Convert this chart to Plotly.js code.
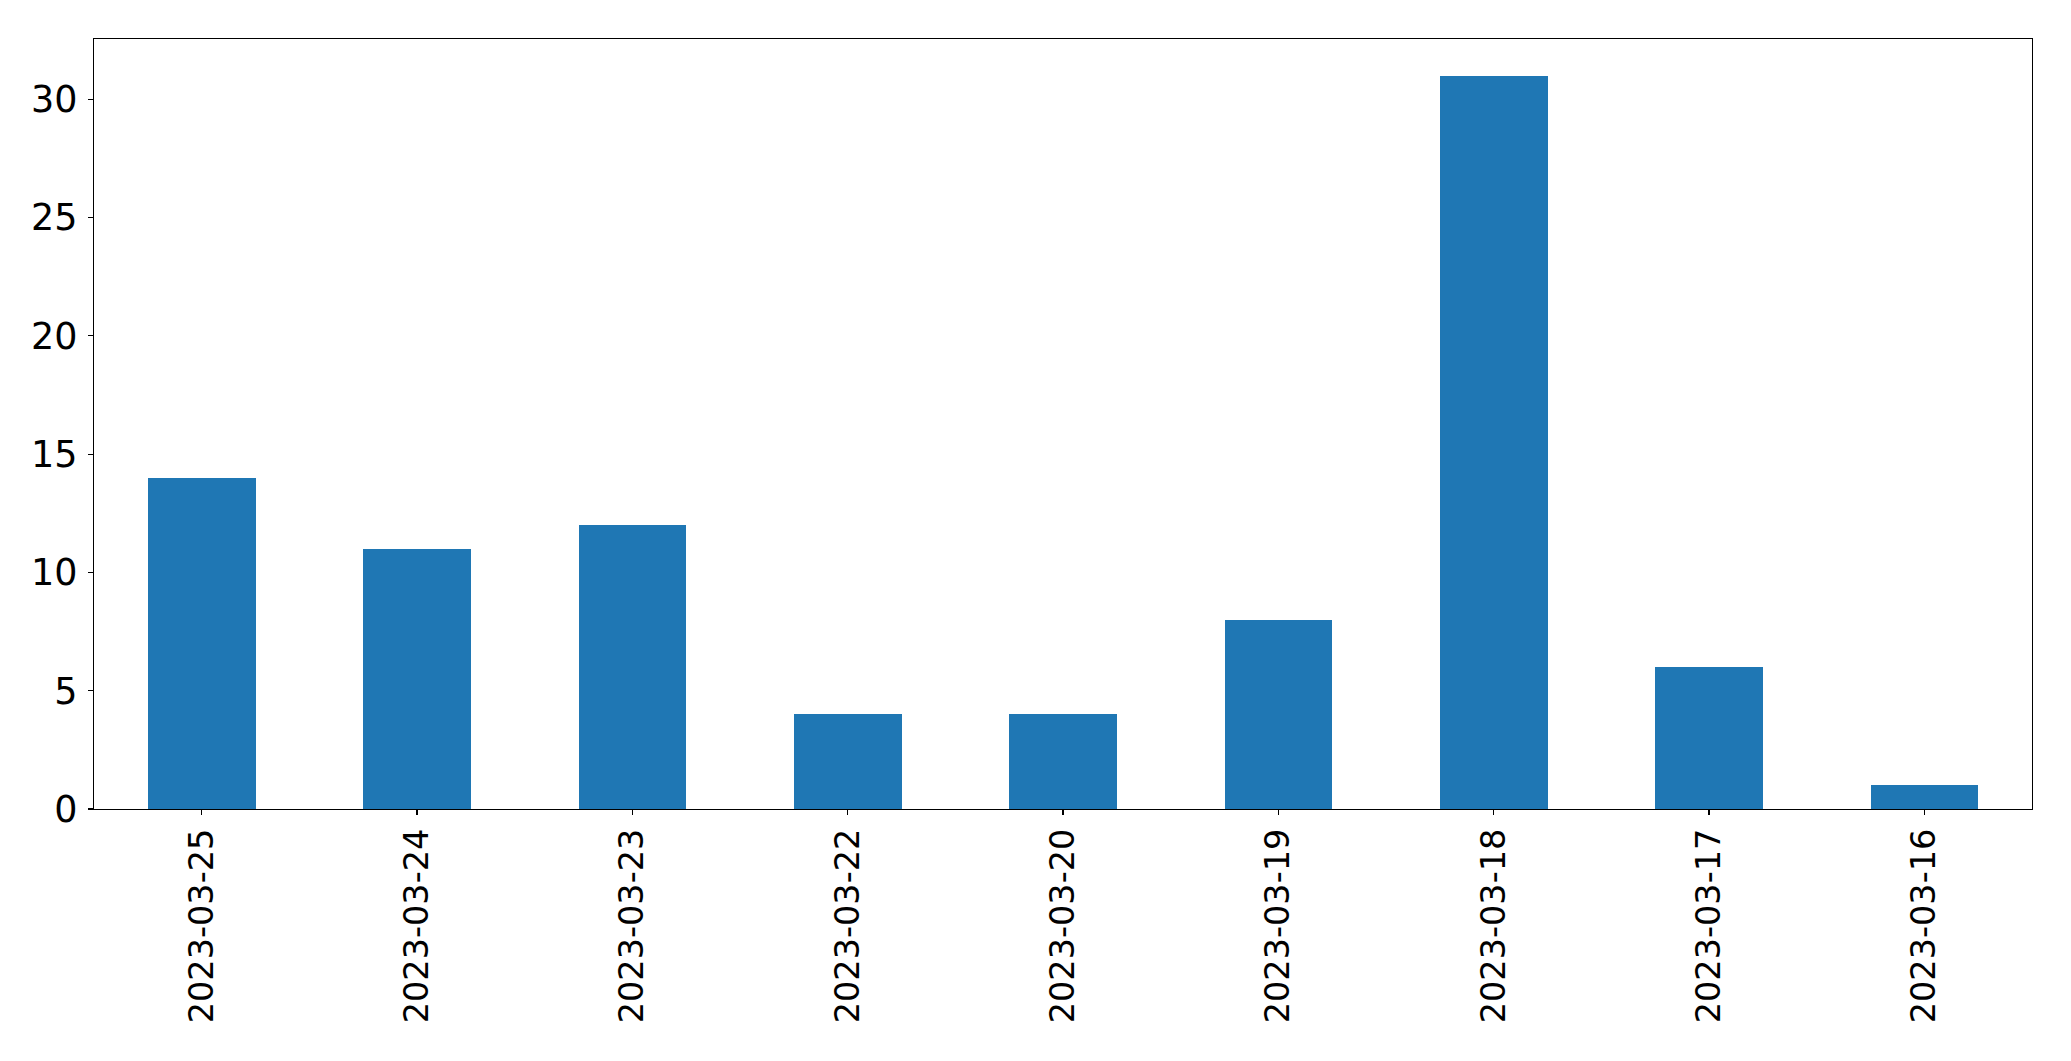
<!DOCTYPE html>
<html>
<head>
<meta charset="utf-8">
<script src="https://cdn.plot.ly/plotly-3.0.1.min.js"></script>
<style>html,body{margin:0;padding:0;background:#fff;}#chart{width:2071px;height:1061px;}</style>
</head>
<body>
<div id="chart"></div>
<script>
const dates = ["2023-03-25","2023-03-24","2023-03-23","2023-03-22","2023-03-20","2023-03-19","2023-03-18","2023-03-17","2023-03-16"];
const counts = [14, 11, 12, 4, 4, 8, 31, 6, 1];
const yTicks = [0, 5, 10, 15, 20, 25, 30];

const trace = {
  type: 'bar',
  x: dates,
  y: counts,
  width: 0.5,
  marker: {color: '#1f77b4', line: {width: 0}},
  hoverinfo: 'x+y'
};

const layout = {
  width: 2071,
  height: 1061,
  margin: {l: 94, r: 39, t: 39, b: 252, pad: 0},
  paper_bgcolor: '#ffffff',
  plot_bgcolor: '#ffffff',
  font: {family: 'DejaVu Sans, sans-serif', size: 34, color: '#000000'},
  showlegend: false,
  bargap: 0,
  xaxis: {
    type: 'category',
    range: [-0.5, 8.5],
    tickangle: -90,
    ticks: 'outside',
    ticklen: 5,
    tickwidth: 1.2,
    tickcolor: '#000',
    showline: true,
    linecolor: '#000',
    linewidth: 1.2,
    mirror: true,
    showgrid: false,
    zeroline: false,
    automargin: false,
    ticklabelstandoff: 0,
    tickfont: {size: 33.5}
  },
  yaxis: {
    range: [0, 32.55],
    tickvals: yTicks,
    ticktext: yTicks.map(String),
    ticks: 'outside',
    ticklen: 5,
    tickwidth: 1.2,
    tickcolor: '#000',
    showline: true,
    linecolor: '#000',
    linewidth: 1.2,
    mirror: true,
    showgrid: false,
    zeroline: false,
    automargin: false,
    ticklabelstandoff: 3,
    tickfont: {size: 36.5}
  }
};

Plotly.newPlot('chart', [trace], layout, {displayModeBar: false, staticPlot: true});
</script>
</body>
</html>
